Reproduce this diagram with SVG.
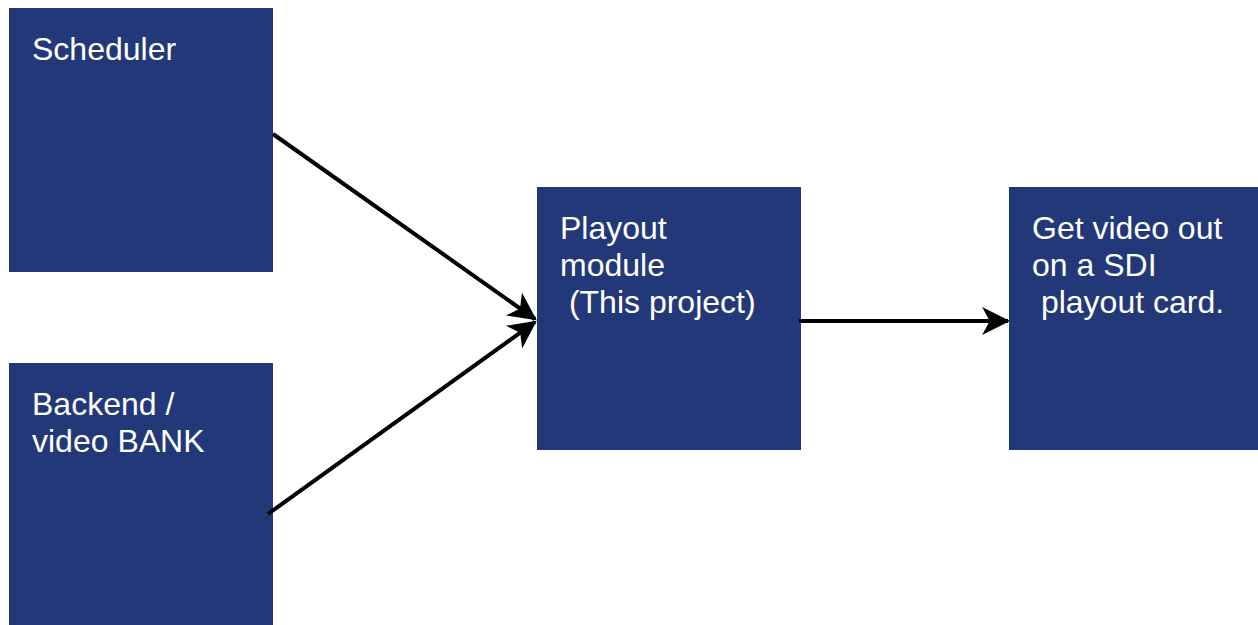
<svg xmlns="http://www.w3.org/2000/svg" width="1258" height="625" viewBox="0 0 1258 625">
<style>
.box{fill:#233879;}
.lbl{font-family:"Liberation Sans",Arial,sans-serif;font-size:32px;fill:#ffffff;white-space:pre;}
.edge{stroke:#000;stroke-width:4;fill:none;}
</style>
<defs>
<marker id="ah" markerUnits="userSpaceOnUse" markerWidth="28" markerHeight="28" viewBox="0 0 26 26" refX="24" refY="13" orient="auto">
<path d="M0,0 L26,13 L0,26 L7,13 z" fill="#000"/>
</marker>
</defs>
<rect width="1258" height="625" fill="#fff"/>
<g id="scheduler"><rect class="box" x="9" y="8" width="264" height="264"/><text class="lbl" x="32" y="60">Scheduler</text></g>
<g id="backend"><rect class="box" x="9" y="363" width="264" height="262"/><text class="lbl" x="32" y="415">Backend /</text><text class="lbl" x="32" y="452">video BANK</text></g>
<g id="playout"><rect class="box" x="537" y="187" width="264" height="263"/><text class="lbl" x="560" y="239">Playout</text><text class="lbl" x="560" y="276">module</text><text class="lbl" x="560" y="313" xml:space="preserve"> (This project)</text></g>
<g id="sdi"><rect class="box" x="1009" y="187" width="249" height="263"/><text class="lbl" x="1032" y="239">Get video out</text><text class="lbl" x="1032" y="276">on a SDI</text><text class="lbl" x="1032" y="313" xml:space="preserve"> playout card.</text></g>
<g id="connectors">
<line class="edge" x1="273" y1="134" x2="535" y2="319" marker-end="url(#ah)"/>
<line class="edge" x1="268" y1="514" x2="535" y2="322" marker-end="url(#ah)"/>
<line class="edge" x1="799" y1="321" x2="1008" y2="321" marker-end="url(#ah)"/>
</g>
</svg>
